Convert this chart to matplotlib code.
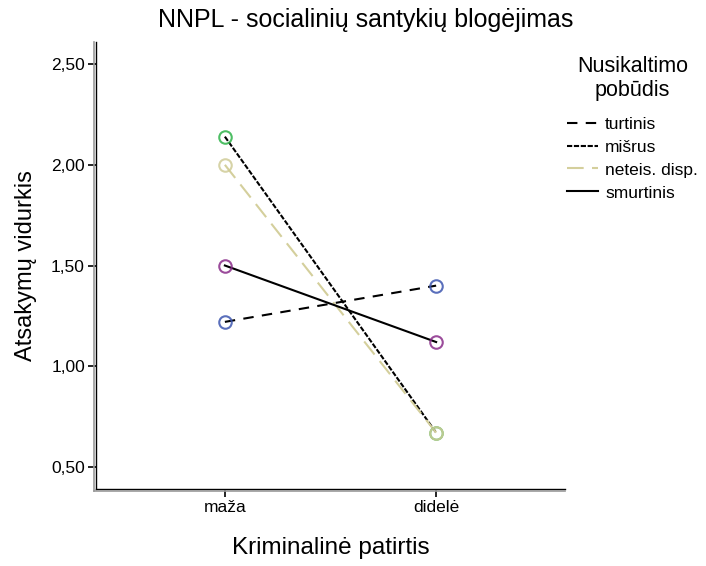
import matplotlib.pyplot as plt
from matplotlib.lines import Line2D

plt.rcParams['font.family'] = ['Liberation Sans', 'DejaVu Sans']

# data
categories = ['maža', 'didelė']
series_names = ['turtinis', 'mišrus', 'neteis. disp.', 'smurtinis']
turtinis = [1.22, 1.40]
misrus = [2.14, 0.67]
neteis = [2.00, 0.67]
smurtinis = [1.50, 1.12]
yticks = [0.5, 1.0, 1.5, 2.0, 2.5]

series = [turtinis, misrus, neteis, smurtinis]
line_colors = ['black', 'black', '#d4cf9c', 'black']
marker_colors = ['#3d56b0', '#2fb34a', '#d0cc98', '#8a2c8a']
dashes = [(5, 4), (2.5, 0.8), (8, 4), None]

fig = plt.figure(figsize=(7.06, 5.66), dpi=100)
ax = fig.add_axes([96/706, 1-489/566, (565-96)/706, (489-42)/566])

x = list(range(len(categories)))
for vals, lc, mc, d, name in zip(series, line_colors, marker_colors, dashes, series_names):
    ln, = ax.plot(x, vals, color=lc, lw=1.5, label=name, zorder=2)
    if d is not None:
        ln.set_dashes(d)
    ax.plot(x, vals, ls='none', marker='o', ms=9, mfc='none', mec=mc, mew=1.5,
            alpha=0.85, zorder=3)

ax.set_xlim(-0.61, 1.61)
ax.set_ylim(0.39, 2.61)
ax.set_xticks(x)
ax.set_xticklabels(categories, fontsize=12.5)
ax.set_yticks(yticks)
ax.set_yticklabels([f'{v:.2f}'.replace('.', ',') for v in yticks], fontsize=12.5)
ax.tick_params(direction='out', length=6, width=1.2, pad=2)
for s in ['top', 'right']:
    ax.spines[s].set_visible(False)
for s in ['left', 'bottom']:
    ax.spines[s].set_linewidth(1.0)

# gray double edge (SPSS style)
fig.add_artist(Line2D([94/706, 94/706], [1-42/566, 1-491/566], color='#999999', lw=1.2))
fig.add_artist(Line2D([94/706, 565/706], [1-491/566, 1-491/566], color='#999999', lw=1.2))

ax.set_xlabel('Kriminalinė patirtis', fontsize=17.5, labelpad=16)
ax.set_ylabel('Atsakymų vidurkis', fontsize=17, labelpad=10)
fig.text(366/706, 1-20/566, 'NNPL - socialinių santykių blogėjimas', fontsize=18,
         ha='center', va='center')

leg = ax.legend(title='Nusikaltimo\npobūdis', loc='upper left',
                bbox_to_anchor=(567/706, 1-56/566), bbox_transform=fig.transFigure,
                frameon=False, fontsize=12.5, title_fontsize=15.5, handlelength=1.8,
                handletextpad=0.4, labelspacing=0.45, borderaxespad=0, borderpad=0)
leg.get_title().set_multialignment('center')
leg._legend_box.sep = 11

fig.savefig('out.png', dpi=100)
